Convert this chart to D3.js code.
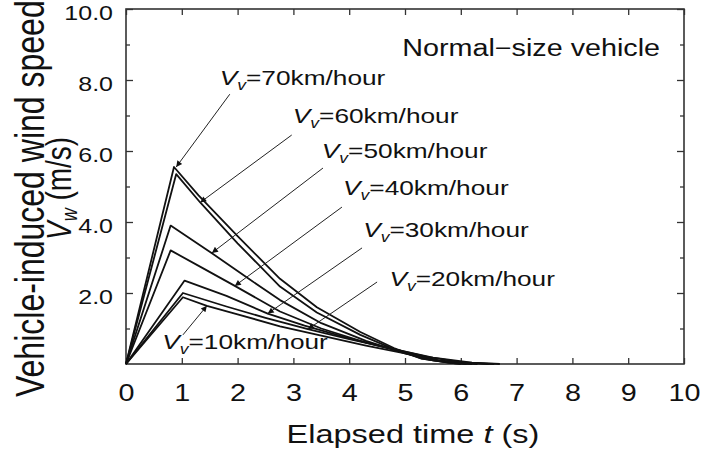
<!DOCTYPE html>
<html>
<head>
<meta charset="utf-8">
<script src="https://cdn.jsdelivr.net/npm/d3@7"></script>
<style>
body { margin: 0; background: #fff; }
text { font-family: "Liberation Sans", Arial, sans-serif; fill: #111; }
</style>
</head>
<body>
<script>
// wind speed curves, [t (s), Vw (m/s)]
var speeds = [70, 60, 50, 40, 30, 20, 10];
var curve70 = [[0,0],[0.86,5.55],[1.3,4.75],[2.0,3.6],[2.76,2.4],[3.42,1.6],[4.2,0.9],[4.8,0.45],[5.3,0.15],[5.8,0.03],[6.2,0]];
var curve60 = [[0,0],[0.9,5.35],[1.33,4.55],[2.0,3.4],[2.76,2.18],[3.42,1.45],[4.2,0.82],[4.8,0.42],[5.3,0.15],[5.9,0.02],[6.3,0]];
var curve50 = [[0,0],[0.8,3.9],[1.54,3.12],[2.2,2.4],[2.76,1.8],[3.5,1.15],[4.3,0.65],[5.0,0.3],[5.5,0.1],[6.0,0]];
var curve40 = [[0,0],[0.8,3.2],[1.4,2.68],[1.95,2.2],[2.76,1.48],[3.5,1.0],[4.3,0.6],[5.0,0.32],[5.6,0.1],[6.1,0]];
var curve30 = [[0,0],[1.05,2.35],[1.8,1.92],[2.54,1.42],[3.2,1.08],[4.0,0.72],[4.8,0.42],[5.4,0.2],[6.0,0.05],[6.5,0]];
var curve20 = [[0,0],[1.02,2.0],[1.8,1.62],[2.5,1.3],[3.26,0.98],[4.0,0.7],[4.8,0.42],[5.5,0.18],[6.2,0.04],[6.7,0]];
var curve10 = [[0,0],[1.02,1.88],[1.45,1.64],[2.0,1.4],[2.76,1.06],[3.5,0.8],[4.3,0.52],[5.0,0.3],[5.6,0.1],[6.2,0.02],[6.6,0]];
var curves = [curve70, curve60, curve50, curve40, curve30, curve20, curve10];

// label anchor, arrow start and arrow tip, in data units
var labelAt   = [[1.68,7.86],[2.99,6.79],[3.51,5.80],[3.89,4.76],[4.25,3.58],[4.72,2.2],[0.65,0.42]];
var arrowFrom = [[1.86,7.6],[2.97,6.45],[3.53,5.52],[3.87,4.42],[4.23,3.27],[4.5,2.31],[1.02,0.82]];
var arrowTo   = [[0.9,5.55],[1.33,4.55],[1.54,3.13],[1.95,2.2],[2.54,1.42],[3.26,0.98],[1.45,1.64]];

var xTicks = [0,1,2,3,4,5,6,7,8,9,10];
var yMajor = [2,4,6,8,10];
var yMinor = [1,3,5,7,9];

var width = 701, height = 450;
var plotL = 126, plotR = 684, plotT = 9, plotB = 364;
var SX = 1.25; // the original lettering is horizontally stretched

var x = d3.scaleLinear().domain([0, 10]).range([plotL, plotR]);
var y = d3.scaleLinear().domain([0, 10]).range([plotB, plotT]);

var svg = d3.select("body").append("svg")
  .attr("width", width)
  .attr("height", height);

svg.append("defs").append("marker")
  .attr("id", "head")
  .attr("viewBox", "0 0 10 10")
  .attr("refX", 10).attr("refY", 5)
  .attr("markerWidth", 9).attr("markerHeight", 6)
  .attr("markerUnits", "userSpaceOnUse")
  .attr("orient", "auto")
  .append("path")
  .attr("d", "M0,0L10,5L0,10z")
  .attr("fill", "#111");

function styleAxis(g, size) {
  g.attr("font-family", null).attr("font-size", size);
  g.select(".domain").remove();
  g.selectAll(".tick line").attr("stroke", "#333").attr("stroke-width", 1.3);
}

// bottom and top
svg.append("g")
  .attr("transform", "translate(0," + plotB + ")")
  .call(d3.axisBottom(x).tickValues(xTicks).tickSize(-6).tickPadding(21).tickFormat(d3.format("d")))
  .call(styleAxis, 23)
  .selectAll("text").attr("transform", "scale(" + SX + ",1)");

svg.append("g")
  .attr("transform", "translate(0," + plotT + ")")
  .call(d3.axisTop(x).tickValues(xTicks).tickSize(-6).tickFormat(""))
  .call(styleAxis, 10);

// left and right
svg.append("g")
  .attr("transform", "translate(" + plotL + ",0)")
  .call(d3.axisLeft(y).tickValues(yMajor).tickSize(-7).tickPadding(13).tickFormat(d3.format(".1f")))
  .call(styleAxis, 20)
  .selectAll("text")
  .attr("x", -13 / SX)
  .attr("y", 4)
  .attr("transform", "scale(" + SX + ",1)");

svg.append("g")
  .attr("transform", "translate(" + plotL + ",0)")
  .call(d3.axisLeft(y).tickValues(yMinor).tickSize(-4).tickFormat(""))
  .call(styleAxis, 10);

svg.append("g")
  .attr("transform", "translate(" + plotR + ",0)")
  .call(d3.axisRight(y).tickValues(yMajor).tickSize(-7).tickFormat(""))
  .call(styleAxis, 10);

svg.append("g")
  .attr("transform", "translate(" + plotR + ",0)")
  .call(d3.axisRight(y).tickValues(yMinor).tickSize(-4).tickFormat(""))
  .call(styleAxis, 10);

svg.append("rect")
  .attr("x", plotL).attr("y", plotT)
  .attr("width", plotR - plotL).attr("height", plotB - plotT)
  .attr("fill", "none")
  .attr("stroke", "#333")
  .attr("stroke-width", 1.6);

// curves
var line = d3.line()
  .x(function(d) { return x(d[0]); })
  .y(function(d) { return y(d[1]); });

svg.selectAll("path.curve")
  .data(curves)
  .enter()
  .append("path")
  .attr("class", "curve")
  .attr("d", line)
  .attr("fill", "none")
  .attr("stroke", "#111")
  .attr("stroke-width", 1.8)
  .attr("stroke-linejoin", "round");

// arrows
svg.selectAll("line.arrow")
  .data(speeds)
  .enter()
  .append("line")
  .attr("class", "arrow")
  .attr("x1", function(d, i) { return x(arrowFrom[i][0]); })
  .attr("y1", function(d, i) { return y(arrowFrom[i][1]); })
  .attr("x2", function(d, i) { return x(arrowTo[i][0]); })
  .attr("y2", function(d, i) { return y(arrowTo[i][1]); })
  .attr("stroke", "#222")
  .attr("stroke-width", 1)
  .attr("marker-end", "url(#head)");

// labels  V_v=..km/hour
var labels = svg.selectAll("text.lab")
  .data(speeds)
  .enter()
  .append("text")
  .attr("class", "lab")
  .attr("font-size", 21)
  .attr("transform", function(d, i) {
    return "translate(" + x(labelAt[i][0]) + "," + y(labelAt[i][1]) + ") scale(" + SX + ",1)";
  });
labels.append("tspan").attr("font-style", "italic").text("V");
labels.append("tspan").attr("font-style", "italic").attr("font-size", 14).attr("dy", 5).text("v");
labels.append("tspan").attr("dy", -5).text(function(d) { return "=" + d + "km/hour"; });

svg.append("text")
  .attr("font-size", 23)
  .attr("transform", "translate(" + x(4.95) + "," + y(8.68) + ") scale(" + SX + ",1)")
  .text("Normal\u2212size vehicle");

// axis titles
var xt = svg.append("text")
  .attr("font-size", 26)
  .attr("text-anchor", "middle")
  .attr("transform", "translate(413,443) scale(" + SX + ",1)");
xt.append("tspan").text("Elapsed time ");
xt.append("tspan").attr("font-style", "italic").text("t");
xt.append("tspan").text(" (s)");

svg.append("text")
  .attr("font-size", 32)
  .attr("transform", "translate(44,397) scale(" + SX + ",1) rotate(-90)")
  .text("Vehicle-induced wind speed");

var yt = svg.append("text")
  .attr("font-size", 28)
  .attr("transform", "translate(71,240) scale(" + SX + ",1) rotate(-90)");
yt.append("tspan").attr("font-style", "italic").text("V");
yt.append("tspan").attr("font-style", "italic").attr("font-size", 18).attr("dy", 5).text("w");
yt.append("tspan").attr("dy", -5).text("  (m/s)");
</script>
</body>
</html>
